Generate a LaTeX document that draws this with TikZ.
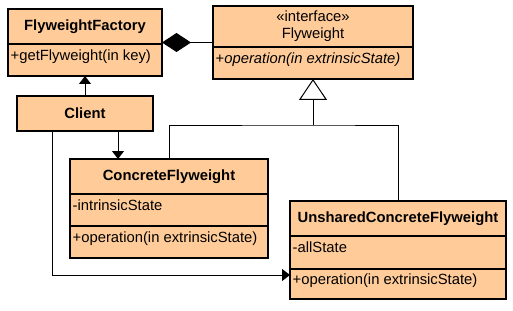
\documentclass[tikz,border=0pt]{standalone}
\usepackage{fontspec}
\setmainfont{Liberation Sans}
\usepackage{tikz}
\usetikzlibrary{arrows.meta,positioning,calc}
\definecolor{peach}{RGB}{255,204,153}

\begin{document}
\begin{tikzpicture}[
  x=1pt, y=1pt,
  comp/.style={draw, line width=2pt, fill=peach, inner sep=0pt, outer sep=0pt, anchor=north west},
  headtext/.style={font=\fontsize{14.8}{17}\selectfont\bfseries, align=center},
  member/.style={font=\fontsize{14.8}{17}\selectfont, anchor=north west, inner sep=0pt},
  assoc/.style={line width=1pt},
  nav/.style={assoc, -{Triangle[length=8pt, width=12pt]}},
  inherit/.style={assoc, -{Triangle[open, length=21pt, width=28pt, fill=white]}},
  compose/.style={assoc, -{Diamond[length=29pt, width=19pt]}},
]
  \useasboundingbox (0,0) rectangle (513,-310);

  % Classes
  \node[comp, minimum width=154pt, minimum height=35pt] (factory) at (8,-9) {};
  \node[comp, minimum width=154pt, minimum height=32pt, below=0pt of factory] (factoryops) {};
  \node[comp, minimum width=200pt, minimum height=41pt] (flyweight) at (213,-6) {};
  \node[comp, minimum width=200pt, minimum height=32pt, below=0pt of flyweight] (flyweightops) {};
  \node[comp, minimum width=136pt, minimum height=35pt] (client) at (17,-96) {};
  \node[comp, minimum width=198pt, minimum height=35pt] (concrete) at (70,-159) {};
  \node[comp, minimum width=198pt, minimum height=32pt, below=0pt of concrete] (concreteattrs) {};
  \node[comp, minimum width=198pt, minimum height=32pt, below=0pt of concreteattrs] (concreteops) {};
  \node[comp, minimum width=216pt, minimum height=35pt] (unshared) at (290,-201) {};
  \node[comp, minimum width=216pt, minimum height=33pt, below=0pt of unshared] (unsharedattrs) {};
  \node[comp, minimum width=216pt, minimum height=30pt, below=0pt of unsharedattrs] (unsharedops) {};

  % Texts
  \node[headtext] (factoryname) at (factory) {FlyweightFactory};
  \node[member] (factoryop) at ([shift={(2.5pt,-5.5pt)}]factoryops.north west) {+getFlyweight(in key)};
  \node[headtext, font=\fontsize{14.8}{17}\selectfont] (flyweightname) at (flyweight) {«interface»\\Flyweight};
  \node[member] (flyweightop) at ([shift={(2.5pt,-5.5pt)}]flyweightops.north west) {+\textit{operation(in extrinsicState)}};
  \node[headtext] (clientname) at (client) {Client};
  \node[headtext] (concretename) at (concrete) {ConcreteFlyweight};
  \node[member] (concreteattr) at ([shift={(2.5pt,-5.5pt)}]concreteattrs.north west) {-intrinsicState};
  \node[member] (concreteop) at ([shift={(2.5pt,-5.5pt)}]concreteops.north west) {+operation(in extrinsicState)};
  \node[headtext] (unsharedname) at (unshared) {UnsharedConcreteFlyweight};
  \node[member] (unsharedattr) at ([shift={(2.5pt,-5.5pt)}]unsharedattrs.north west) {-allState};
  \node[member] (unsharedop) at ([shift={(2.5pt,-5pt)}]unsharedops.north west) {+operation(in extrinsicState)};

  % Connectors
  \coordinate (factorymid) at ($(factory.north east)!0.5!(factoryops.south east)$);
  \draw[compose] (flyweight.west |- factorymid) -- (factorymid);
  \draw[nav] (client) -- (factoryops);
  \draw[nav] ([xshift=33pt]client.south) -- ([xshift=33pt]client.south |- concrete.north);
  \draw[nav] ([xshift=-33pt]client.south) |- ([yshift=9pt]unsharedops.west);

  \coordinate (fork) at ([yshift=-46pt]flyweightops.south);
  \draw[assoc] (concrete.north) |- (fork) -| (unshared.north);
  \draw[inherit] (fork) -- (flyweightops.south);
\end{tikzpicture}
\end{document}
